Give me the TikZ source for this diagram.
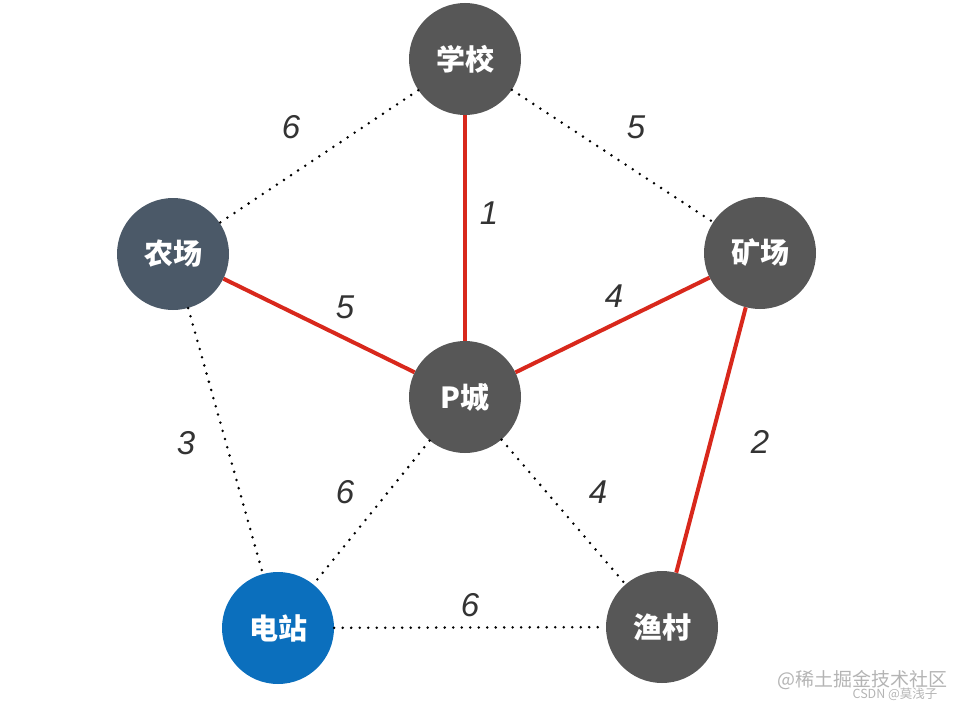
\documentclass[tikz,border=0pt]{standalone}
\usepackage{fontspec}
\setmainfont{Liberation Sans}
\newfontfamily\cjk{Noto Sans CJK SC}
\definecolor{nodegray}{HTML}{575757}
\definecolor{farmslate}{HTML}{4B5968}
\definecolor{stationblue}{HTML}{0B6FBD}
\definecolor{mstred}{HTML}{D8281C}
\definecolor{wmgray}{HTML}{B4B4B4}
\begin{document}
\begin{tikzpicture}[x=1pt,y=-1pt,
  city/.style={circle,minimum size=112pt,inner sep=0pt,fill=nodegray,text=white,font=\cjk\bfseries\fontsize{29}{31}\selectfont},
  mst/.style={draw=mstred,line width=4pt},
  other/.style={draw=black,line width=2.8pt,line cap=round,dash pattern=on 0pt off 8.5pt},
  wt/.style={font=\itshape\fontsize{33}{36}\selectfont,text=black!80}]
\useasboundingbox (0,0) rectangle (956,709);
\node[city] (school) at (465,59) {学校};
\node[city,fill=farmslate] (farm) at (173,254) {农场};
\node[city] (mine) at (760,253) {矿场};
\node[city] (p) at (465,397) {P城};
\node[city,fill=stationblue] (station) at (278,628) {电站};
\node[city] (fish) at (662,627) {渔村};
% dotted edges
\draw[other] (school) -- (farm);
\draw[other] (school) -- (mine);
\draw[other] (farm) -- (station);
\draw[other] (p) -- (station);
\draw[other] (p) -- (fish);
\draw[other] (station) -- (fish);
% MST edges
\draw[mst] (school) -- (p);
\draw[mst] (farm) -- (p);
\draw[mst] (mine) -- (p);
\draw[mst] (mine) -- (fish);
% weights
\node[wt] (w1) at (291,127) {6};
\node[wt] (w2) at (636,127) {5};
\node[wt] (w3) at (489,213) {1};
\node[wt] (w4) at (345,307) {5};
\node[wt] (w5) at (614,296) {4};
\node[wt] (w6) at (186,443) {3};
\node[wt] (w7) at (760,442) {2};
\node[wt] (w8) at (345,492) {6};
\node[wt] (w9) at (598,492) {4};
\node[wt] (w10) at (470,605) {6};
% watermark
\node[text=wmgray,anchor=east,font=\cjk\fontsize{19}{20}\selectfont] (wm1) at (951,680) {@稀土掘金技术社区};
\node[text=wmgray,anchor=east,font=\cjk\fontsize{12.5}{13}\selectfont] (wm2) at (941,694) {CSDN @莫浅子};
\end{tikzpicture}
\end{document}
